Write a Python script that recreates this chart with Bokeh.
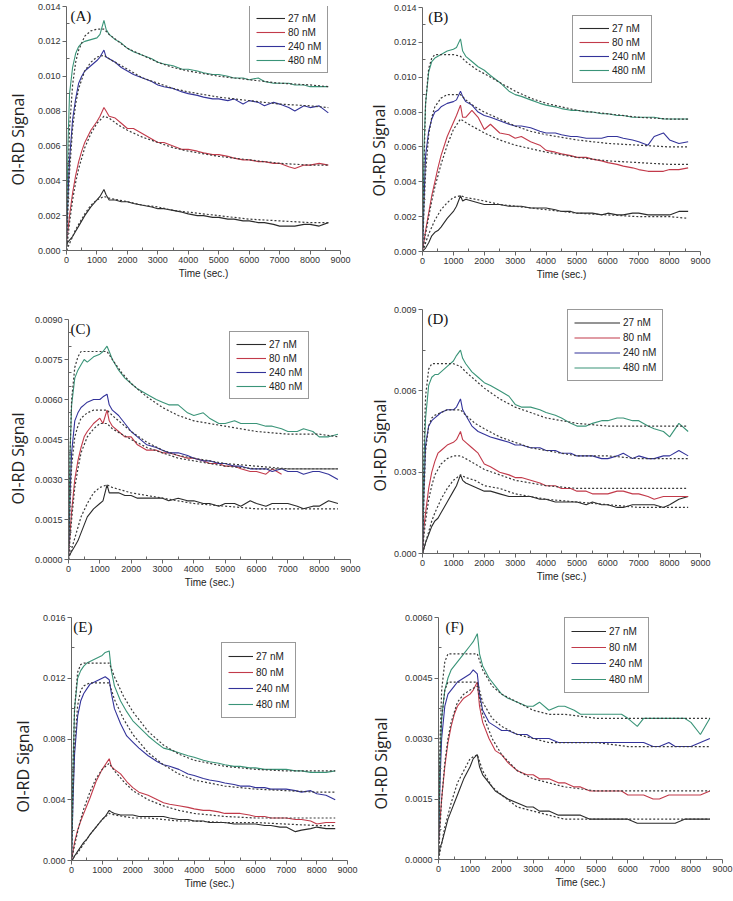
import math
import numpy as np
from bokeh.plotting import figure
from bokeh.models import (Range1d, FixedTicker, NumeralTickFormatter, Legend, LegendItem, Label, Plot)
from bokeh.layouts import column, row
from bokeh.embed import file_html
from bokeh.resources import INLINE

nan = float("nan")

# ---------------- data ----------------
T = [0, 50, 100, 200, 300, 400, 500, 600, 800, 1000, 1100,
     1230, 1300, 1400, 1600, 1800, 2000, 2200, 2500, 2800, 3000, 3200,
     3500, 3800, 4000, 4300, 4500, 4800, 5000, 5300, 5500, 5800, 6000,
     6300, 6500, 6800, 7000, 7300, 7500, 7800, 8000, 8300, 8600]
TF = [0, 50, 100, 200, 300, 400, 600, 800, 1000, 1230, 1400,
      1700, 2000, 2500, 3000, 3500, 4000, 5000, 6000, 7000, 8000, 8600]

LABELS = ["27 nM", "80 nM", "240 nM", "480 nM"]
X_TICKS = [0, 1000, 2000, 3000, 4000, 5000, 6000, 7000, 8000, 9000]

# Panel A
A27 = [0.0003, 0.0005, 0.0006, 0.0008, 0.0011, 0.0014, 0.0017, 0.0020, 0.0025, 0.0029, 0.0031,
       0.0035, 0.0032, 0.0029, 0.0029, 0.0028, 0.0028, 0.0027, 0.0026, 0.0025, 0.0024, 0.0024,
       0.0023, 0.0022, 0.0021, 0.0020, 0.0020, 0.0019, 0.0019, 0.0018, 0.0018, 0.0017, 0.0017,
       0.0016, 0.0016, 0.0015, 0.0014, 0.0014, 0.0014, 0.0015, 0.0015, 0.0014, 0.0016]
A80 = [0.0005, 0.0012, 0.0020, 0.0033, 0.0043, 0.0051, 0.0057, 0.0062, 0.0069, 0.0074, 0.0077,
       0.0082, 0.0080, 0.0077, 0.0076, 0.0073, 0.0070, 0.0070, 0.0067, 0.0064, 0.0062, 0.0062,
       0.0060, 0.0058, 0.0058, 0.0057, 0.0056, 0.0055, 0.0055, 0.0054, 0.0053, 0.0052, 0.0052,
       0.0051, 0.0051, 0.0050, 0.0050, 0.0048, 0.0047, 0.0049, 0.0049, 0.0050, 0.0049]
A240 = [0.0005, 0.0032, 0.0052, 0.0075, 0.0087, 0.0096, 0.0100, 0.0103, 0.0106, 0.0109, 0.0111,
        0.0115, 0.0111, 0.0110, 0.0108, 0.0105, 0.0103, 0.0101, 0.0099, 0.0097, 0.0095, 0.0094,
        0.0093, 0.0091, 0.0090, 0.0089, 0.0088, 0.0087, 0.0087, 0.0086, 0.0087, 0.0084, 0.0086,
        0.0085, 0.0083, 0.0085, 0.0084, 0.0082, 0.0080, 0.0083, 0.0082, 0.0083, 0.0079]
A480 = [0.0005, 0.0062, 0.0090, 0.0105, 0.0113, 0.0117, 0.0119, 0.0120, 0.0121, 0.0122, 0.0124,
        0.0132, 0.0127, 0.0124, 0.0121, 0.0119, 0.0116, 0.0114, 0.0112, 0.0110, 0.0108, 0.0107,
        0.0106, 0.0104, 0.0104, 0.0103, 0.0102, 0.0101, 0.0101, 0.0100, 0.0099, 0.0099, 0.0098,
        0.0099, 0.0097, 0.0096, 0.0096, 0.0096, 0.0095, 0.0095, 0.0094, 0.0094, 0.0094]
A27F = [0.0000, 0.0002, 0.0004, 0.0008, 0.0012, 0.0015, 0.0021, 0.0026, 0.0029, 0.0031, 0.0030,
        0.0029, 0.0028, 0.0026, 0.0025, 0.0023, 0.0022, 0.0020, 0.0018, 0.0017, 0.0016, 0.0016]
A80F = [0.0000, 0.0008, 0.0016, 0.0029, 0.0039, 0.0047, 0.0059, 0.0067, 0.0073, 0.0077, 0.0076,
        0.0072, 0.0069, 0.0065, 0.0062, 0.0059, 0.0057, 0.0054, 0.0052, 0.0050, 0.0049, 0.0049]
A240F = [0.0000, 0.0024, 0.0045, 0.0070, 0.0084, 0.0093, 0.0103, 0.0108, 0.0111, 0.0112, 0.0110,
         0.0107, 0.0104, 0.0099, 0.0096, 0.0093, 0.0091, 0.0088, 0.0086, 0.0084, 0.0083, 0.0082]
A480F = [0.0000, 0.0040, 0.0070, 0.0095, 0.0108, 0.0115, 0.0123, 0.0126, 0.0127, 0.0127, 0.0124,
         0.0120, 0.0116, 0.0112, 0.0108, 0.0105, 0.0103, 0.0100, 0.0098, 0.0096, 0.0095, 0.0094]

# Panel B
B27 = [0.0000, 0.0001, 0.0002, 0.0005, 0.0009, 0.0011, 0.0012, 0.0014, 0.0019, 0.0023, 0.0026,
       0.0032, 0.0029, 0.0030, 0.0029, 0.0028, 0.0027, 0.0027, 0.0027, 0.0026, 0.0026, 0.0026,
       0.0025, 0.0025, 0.0025, 0.0024, 0.0023, 0.0023, 0.0022, 0.0022, 0.0022, 0.0021, 0.0022,
       0.0021, 0.0021, 0.0022, 0.0022, 0.0021, 0.0021, 0.0021, 0.0021, 0.0023, 0.0023]
B80 = [0.0000, 0.0006, 0.0012, 0.0022, 0.0032, 0.0040, 0.0048, 0.0055, 0.0066, 0.0074, 0.0078,
       0.0084, 0.0077, 0.0077, 0.0081, 0.0077, 0.0070, 0.0073, 0.0068, 0.0067, 0.0065, 0.0066,
       0.0063, 0.0061, 0.0058, 0.0057, 0.0056, 0.0055, 0.0054, 0.0054, 0.0053, 0.0052, 0.0051,
       0.0050, 0.0049, 0.0048, 0.0047, 0.0046, 0.0046, 0.0046, 0.0047, 0.0047, 0.0048]
B240 = [0.0000, 0.0030, 0.0055, 0.0069, 0.0076, 0.0080, 0.0081, 0.0083, 0.0085, 0.0086, 0.0087,
        0.0092, 0.0089, 0.0086, 0.0084, 0.0080, 0.0078, 0.0077, 0.0075, 0.0073, 0.0072, 0.0072,
        0.0071, 0.0069, 0.0068, 0.0068, 0.0067, 0.0066, 0.0066, 0.0065, 0.0065, 0.0065, 0.0066,
        0.0066, 0.0065, 0.0064, 0.0063, 0.0061, 0.0066, 0.0068, 0.0064, 0.0062, 0.0063]
B480 = [0.0000, 0.0060, 0.0085, 0.0103, 0.0109, 0.0111, 0.0112, 0.0113, 0.0115, 0.0116, 0.0117,
        0.0122, 0.0115, 0.0112, 0.0109, 0.0106, 0.0104, 0.0101, 0.0097, 0.0092, 0.0090, 0.0089,
        0.0087, 0.0085, 0.0084, 0.0083, 0.0082, 0.0081, 0.0081, 0.0080, 0.0080, 0.0079, 0.0079,
        0.0078, 0.0078, 0.0077, 0.0077, 0.0077, 0.0077, 0.0076, 0.0076, 0.0076, 0.0076]
B27F = [0.0000, 0.0002, 0.0005, 0.0010, 0.0014, 0.0018, 0.0024, 0.0028, 0.0031, 0.0032, 0.0031,
        0.0030, 0.0029, 0.0027, 0.0026, 0.0025, 0.0024, 0.0022, 0.0021, 0.0020, 0.0020, 0.0019]
B80F = [0.0000, 0.0005, 0.0010, 0.0020, 0.0029, 0.0037, 0.0050, 0.0061, 0.0070, 0.0076, 0.0074,
        0.0071, 0.0068, 0.0064, 0.0061, 0.0059, 0.0057, 0.0054, 0.0052, 0.0051, 0.0050, 0.0050]
B240F = [0.0000, 0.0025, 0.0045, 0.0067, 0.0077, 0.0083, 0.0088, 0.0090, 0.0090, 0.0090, 0.0087,
         0.0083, 0.0080, 0.0076, 0.0072, 0.0069, 0.0067, 0.0064, 0.0062, 0.0061, 0.0060, 0.0060]
B480F = [0.0000, 0.0050, 0.0085, 0.0105, 0.0111, 0.0113, 0.0113, 0.0113, 0.0113, 0.0112, 0.0109,
         0.0105, 0.0102, 0.0097, 0.0092, 0.0088, 0.0085, 0.0081, 0.0079, 0.0077, 0.0076, 0.0076]

# Panel C
C27 = [0.0001, 0.0002, 0.0003, 0.0005, 0.0007, 0.0010, 0.0013, 0.0016, 0.0019, 0.0021, 0.0022,
       0.0028, 0.0025, 0.0025, 0.0025, 0.0024, 0.0024, 0.0023, 0.0023, 0.0023, 0.0023, 0.0022,
       0.0023, 0.0022, 0.0022, 0.0021, 0.0021, 0.0020, 0.0021, 0.0021, 0.0020, 0.0022, 0.0021,
       0.0020, 0.0021, 0.0021, 0.0021, 0.0020, 0.0019, 0.0020, 0.0020, 0.0022, 0.0021]
C80 = [0.0001, 0.0010, 0.0018, 0.0030, 0.0037, 0.0042, 0.0046, 0.0048, 0.0051, 0.0053, 0.0051,
       0.0056, 0.0052, 0.0050, 0.0048, 0.0046, 0.0046, 0.0043, 0.0041, 0.0041, 0.0040, 0.0040,
       0.0039, 0.0038, 0.0038, 0.0037, 0.0036, 0.0036, 0.0035, 0.0035, 0.0034, 0.0033, 0.0033,
       0.0032, 0.0034, 0.0032, nan, nan, nan, nan, nan, nan, nan]
C240 = [0.0001, 0.0025, 0.0040, 0.0052, 0.0055, 0.0057, 0.0058, 0.0059, 0.0060, 0.0060, 0.0061,
        0.0062, 0.0058, 0.0056, 0.0054, 0.0051, 0.0048, 0.0046, 0.0043, 0.0042, 0.0041, 0.0040,
        0.0040, 0.0039, 0.0038, 0.0037, 0.0037, 0.0036, 0.0036, 0.0035, 0.0035, 0.0034, 0.0034,
        0.0034, 0.0033, 0.0034, 0.0033, 0.0033, 0.0032, 0.0033, 0.0033, 0.0032, 0.0030]
C480 = [0.0001, 0.0040, 0.0058, 0.0068, 0.0071, 0.0073, 0.0075, 0.0074, 0.0076, 0.0077, 0.0078,
        0.0080, 0.0078, 0.0075, 0.0071, 0.0068, 0.0066, 0.0064, 0.0062, 0.0060, 0.0059, 0.0058,
        0.0058, 0.0055, 0.0054, 0.0055, 0.0053, 0.0051, 0.0051, 0.0052, 0.0051, 0.0051, 0.0051,
        0.0050, 0.0050, 0.0049, 0.0048, 0.0048, 0.0049, 0.0048, 0.0046, 0.0046, 0.0047]
C27F = [0.0000, 0.0002, 0.0004, 0.0008, 0.0012, 0.0016, 0.0021, 0.0025, 0.0027, 0.0028, 0.0027,
        0.0026, 0.0025, 0.0024, 0.0023, 0.0022, 0.0021, 0.0020, 0.0019, 0.0019, 0.0019, 0.0019]
C80F = [0.0000, 0.0008, 0.0015, 0.0027, 0.0034, 0.0040, 0.0046, 0.0049, 0.0051, 0.0051, 0.0049,
        0.0047, 0.0045, 0.0042, 0.0040, 0.0038, 0.0037, 0.0035, 0.0034, 0.0034, 0.0034, 0.0034]
C240F = [0.0000, 0.0020, 0.0035, 0.0046, 0.0050, 0.0053, 0.0055, 0.0056, 0.0056, 0.0056, 0.0054,
         0.0051, 0.0048, 0.0044, 0.0041, 0.0039, 0.0038, 0.0036, 0.0035, 0.0034, 0.0034, 0.0034]
C480F = [0.0000, 0.0040, 0.0060, 0.0072, 0.0076, 0.0078, 0.0078, 0.0078, 0.0078, 0.0078, 0.0075,
         0.0070, 0.0066, 0.0061, 0.0057, 0.0054, 0.0052, 0.0050, 0.0048, 0.0047, 0.0047, 0.0046]

# Panel D
D27 = [0.0000, 0.0002, 0.0004, 0.0007, 0.0010, 0.0012, 0.0013, 0.0015, 0.0019, 0.0023, 0.0025,
       0.0029, 0.0027, 0.0026, 0.0025, 0.0024, 0.0023, 0.0023, 0.0022, 0.0021, 0.0021, 0.0021,
       0.0021, 0.0020, 0.0020, 0.0019, 0.0019, 0.0019, 0.0019, 0.0018, 0.0019, 0.0018, 0.0018,
       0.0017, 0.0017, 0.0018, 0.0018, 0.0018, 0.0018, 0.0017, 0.0018, 0.0020, 0.0021]
D80 = [0.0000, 0.0010, 0.0015, 0.0024, 0.0030, 0.0034, 0.0037, 0.0038, 0.0040, 0.0041, 0.0042,
       0.0045, 0.0042, 0.0041, 0.0039, 0.0037, 0.0033, 0.0032, 0.0030, 0.0029, 0.0028, 0.0028,
       0.0027, 0.0026, 0.0025, 0.0025, 0.0024, 0.0024, 0.0023, 0.0023, 0.0022, 0.0022, 0.0022,
       0.0023, 0.0023, 0.0022, 0.0022, 0.0021, 0.0020, 0.0021, 0.0021, 0.0021, 0.0021]
D240 = [0.0000, 0.0025, 0.0040, 0.0047, 0.0049, 0.0050, 0.0051, 0.0052, 0.0053, 0.0053, 0.0054,
        0.0057, 0.0053, 0.0051, 0.0047, 0.0045, 0.0044, 0.0043, 0.0042, 0.0041, 0.0040, 0.0040,
        0.0039, 0.0039, 0.0038, 0.0038, 0.0037, 0.0037, 0.0036, 0.0036, 0.0036, 0.0035, 0.0035,
        0.0036, 0.0037, 0.0035, 0.0036, 0.0035, 0.0035, 0.0036, 0.0036, 0.0038, 0.0036]
D480 = [0.0000, 0.0035, 0.0050, 0.0062, 0.0065, 0.0066, 0.0066, 0.0067, 0.0069, 0.0071, 0.0073,
        0.0075, 0.0072, 0.0070, 0.0067, 0.0065, 0.0063, 0.0062, 0.0060, 0.0058, 0.0055, 0.0054,
        0.0054, 0.0053, 0.0052, 0.0051, 0.0050, 0.0048, 0.0047, 0.0047, 0.0048, 0.0049, 0.0049,
        0.0050, 0.0050, 0.0049, 0.0049, 0.0047, 0.0046, 0.0045, 0.0043, 0.0048, 0.0045]
D27F = [0.0000, 0.0002, 0.0004, 0.0008, 0.0012, 0.0015, 0.0020, 0.0024, 0.0027, 0.0029, 0.0028,
        0.0027, 0.0025, 0.0024, 0.0022, 0.0021, 0.0020, 0.0019, 0.0018, 0.0017, 0.0017, 0.0017]
D80F = [0.0000, 0.0007, 0.0012, 0.0020, 0.0025, 0.0029, 0.0033, 0.0035, 0.0036, 0.0036, 0.0035,
        0.0033, 0.0031, 0.0029, 0.0027, 0.0026, 0.0025, 0.0024, 0.0024, 0.0024, 0.0024, 0.0024]
D240F = [0.0000, 0.0022, 0.0038, 0.0047, 0.0050, 0.0051, 0.0052, 0.0053, 0.0053, 0.0053, 0.0051,
         0.0048, 0.0046, 0.0043, 0.0041, 0.0039, 0.0038, 0.0036, 0.0036, 0.0035, 0.0035, 0.0035]
D480F = [0.0000, 0.0040, 0.0058, 0.0068, 0.0070, 0.0070, 0.0070, 0.0070, 0.0070, 0.0069, 0.0067,
         0.0064, 0.0061, 0.0057, 0.0054, 0.0052, 0.0050, 0.0048, 0.0047, 0.0047, 0.0047, 0.0047]

# Panel E
E27 = [0.0000, 0.0001, 0.0003, 0.0006, 0.0009, 0.0012, 0.0014, 0.0017, 0.0022, 0.0027, 0.0029,
       0.0033, 0.0032, 0.0031, 0.0030, 0.0030, 0.0030, 0.0029, 0.0029, 0.0029, 0.0029, 0.0028,
       0.0027, 0.0027, 0.0026, 0.0026, 0.0025, 0.0025, 0.0025, 0.0024, 0.0024, 0.0024, 0.0024,
       0.0023, 0.0023, 0.0022, 0.0022, 0.0019, 0.0020, 0.0021, 0.0022, 0.0021, 0.0021]
E80 = [0.0000, 0.0006, 0.0012, 0.0020, 0.0026, 0.0031, 0.0036, 0.0041, 0.0052, 0.0060, 0.0063,
       0.0067, 0.0062, 0.0060, 0.0057, 0.0052, 0.0048, 0.0045, 0.0043, 0.0040, 0.0038, 0.0037,
       0.0036, 0.0035, 0.0034, 0.0033, 0.0033, 0.0032, 0.0031, 0.0031, 0.0031, 0.0030, 0.0029,
       0.0029, 0.0028, 0.0028, 0.0028, 0.0027, 0.0027, 0.0026, 0.0024, 0.0025, 0.0025]
E240 = [0.0000, 0.0040, 0.0070, 0.0095, 0.0105, 0.0110, 0.0113, 0.0116, 0.0118, 0.0120, 0.0121,
        0.0119, 0.0110, 0.0100, 0.0090, 0.0082, 0.0078, 0.0074, 0.0069, 0.0065, 0.0063, 0.0062,
        0.0060, 0.0057, 0.0056, 0.0054, 0.0053, 0.0052, 0.0051, 0.0050, 0.0049, 0.0049, 0.0048,
        0.0048, 0.0047, 0.0047, 0.0047, 0.0046, 0.0045, 0.0046, 0.0044, 0.0043, 0.0040]
E480 = [0.0000, 0.0060, 0.0100, 0.0120, 0.0125, 0.0128, 0.0130, 0.0131, 0.0133, 0.0135, 0.0137,
        0.0138, 0.0125, 0.0115, 0.0105, 0.0098, 0.0092, 0.0088, 0.0082, 0.0077, 0.0074, 0.0073,
        0.0071, 0.0069, 0.0068, 0.0066, 0.0065, 0.0064, 0.0063, 0.0062, 0.0062, 0.0061, 0.0061,
        0.0060, 0.0060, 0.0060, 0.0060, 0.0059, 0.0059, 0.0058, 0.0058, 0.0058, 0.0059]
E27F = [0.0000, 0.0001, 0.0003, 0.0005, 0.0008, 0.0011, 0.0017, 0.0022, 0.0027, 0.0031, 0.0030,
        0.0029, 0.0028, 0.0028, 0.0027, 0.0026, 0.0026, 0.0025, 0.0025, 0.0024, 0.0023, 0.0023]
E80F = [0.0000, 0.0005, 0.0010, 0.0019, 0.0027, 0.0034, 0.0045, 0.0054, 0.0060, 0.0064, 0.0059,
        0.0052, 0.0046, 0.0040, 0.0036, 0.0033, 0.0031, 0.0029, 0.0028, 0.0028, 0.0028, 0.0028]
E240F = [0.0000, 0.0045, 0.0075, 0.0102, 0.0112, 0.0115, 0.0117, 0.0117, 0.0117, 0.0117, 0.0106,
         0.0093, 0.0083, 0.0071, 0.0063, 0.0057, 0.0053, 0.0049, 0.0047, 0.0046, 0.0045, 0.0045]
E480F = [0.0000, 0.0065, 0.0100, 0.0124, 0.0129, 0.0130, 0.0130, 0.0130, 0.0130, 0.0130, 0.0121,
         0.0108, 0.0098, 0.0085, 0.0076, 0.0070, 0.0066, 0.0062, 0.0060, 0.0059, 0.0059, 0.0059]

# Panel F
F27 = [0.0001, 0.0003, 0.0004, 0.0007, 0.0010, 0.0012, 0.0014, 0.0016, 0.0020, 0.0023, 0.0025,
       0.0026, 0.0023, 0.0021, 0.0019, 0.0017, 0.0016, 0.0015, 0.0014, 0.0013, 0.0013, 0.0012,
       0.0012, 0.0011, 0.0011, 0.0011, 0.0011, 0.0010, 0.0010, 0.0010, 0.0010, 0.0010, 0.0010,
       0.0009, 0.0009, 0.0009, 0.0009, 0.0009, 0.0009, 0.0010, 0.0010, 0.0010, 0.0010]
F80 = [0.0004, 0.0010, 0.0015, 0.0023, 0.0029, 0.0033, 0.0036, 0.0038, 0.0040, 0.0041, 0.0042,
       0.0044, 0.0038, 0.0034, 0.0030, 0.0027, 0.0026, 0.0024, 0.0022, 0.0021, 0.0021, 0.0020,
       0.0020, 0.0019, 0.0019, 0.0018, 0.0018, 0.0017, 0.0017, 0.0017, 0.0017, 0.0017, 0.0016,
       0.0016, 0.0016, 0.0015, 0.0015, 0.0016, 0.0016, 0.0016, 0.0016, 0.0016, 0.0017]
F240 = [0.0004, 0.0020, 0.0030, 0.0038, 0.0041, 0.0042, 0.0043, 0.0044, 0.0045, 0.0046, 0.0047,
        0.0046, 0.0041, 0.0037, 0.0034, 0.0033, 0.0032, 0.0032, 0.0031, 0.0031, 0.0030, 0.0030,
        0.0030, 0.0029, 0.0029, 0.0029, 0.0029, 0.0029, 0.0029, 0.0029, 0.0029, 0.0029, 0.0029,
        0.0029, 0.0029, 0.0028, 0.0028, 0.0029, 0.0028, 0.0028, 0.0028, 0.0029, 0.0030]
F480 = [0.0004, 0.0025, 0.0035, 0.0042, 0.0045, 0.0047, 0.0048, 0.0049, 0.0051, 0.0053, 0.0054,
        0.0056, 0.0051, 0.0048, 0.0045, 0.0043, 0.0041, 0.0040, 0.0039, 0.0038, 0.0038, 0.0039,
        0.0037, 0.0038, 0.0038, 0.0037, 0.0036, 0.0036, 0.0036, 0.0036, 0.0036, 0.0036, 0.0035,
        0.0033, 0.0035, 0.0035, 0.0035, 0.0035, 0.0035, 0.0035, 0.0034, 0.0031, 0.0035]
F27F = [0.0000, 0.0002, 0.0004, 0.0008, 0.0011, 0.0014, 0.0019, 0.0022, 0.0025, 0.0026, 0.0022,
        0.0018, 0.0016, 0.0013, 0.0012, 0.0011, 0.0010, 0.0010, 0.0010, 0.0010, 0.0010, 0.0010]
F80F = [0.0000, 0.0008, 0.0015, 0.0024, 0.0030, 0.0034, 0.0039, 0.0041, 0.0042, 0.0043, 0.0036,
        0.0030, 0.0026, 0.0022, 0.0020, 0.0019, 0.0018, 0.0017, 0.0017, 0.0017, 0.0017, 0.0017]
F240F = [0.0000, 0.0025, 0.0035, 0.0042, 0.0044, 0.0044, 0.0044, 0.0044, 0.0044, 0.0044, 0.0039,
         0.0035, 0.0033, 0.0031, 0.0030, 0.0029, 0.0029, 0.0029, 0.0028, 0.0028, 0.0028, 0.0028]
F480F = [0.0000, 0.0030, 0.0042, 0.0049, 0.0051, 0.0051, 0.0051, 0.0051, 0.0051, 0.0051, 0.0047,
         0.0043, 0.0041, 0.0039, 0.0037, 0.0036, 0.0036, 0.0035, 0.0035, 0.0035, 0.0035, 0.0035]

# y-axis ticks per panel
A_YT = [0.000, 0.002, 0.004, 0.006, 0.008, 0.010, 0.012, 0.014]
B_YT = A_YT
C_YT = [0.0, 0.0015, 0.0030, 0.0045, 0.0060, 0.0075, 0.0090]
D_YT = [0.0, 0.003, 0.006, 0.009]
E_YT = [0.0, 0.004, 0.008, 0.012, 0.016]
F_YT = [0.0, 0.0015, 0.0030, 0.0045, 0.0060]

# ---------------- styling ----------------
COLORS = ["#2b2b2b", "#c23a4a", "#33339a", "#3a9478"]
FIT_COLOR = "#3a3a3a"
HAS_FRAME_ALIGN = "frame_align" in Plot.properties()


def no_align(p):
    if HAS_FRAME_ALIGN:
        p.frame_align = False


def minor_between(ticks, n):
    out = []
    for a, b in zip(ticks[:-1], ticks[1:]):
        for k in range(1, n + 1):
            out.append(a + (b - a) * k / (n + 1))
    return out


def ylabel_fig(width, height, cx, cy):
    """Narrow strip holding the rotated y-axis title."""
    f = figure(width=width, height=height, output_backend="svg", toolbar_location=None,
               x_range=Range1d(0, 1), y_range=Range1d(0, 1),
               x_axis_type=None, y_axis_type=None,
               min_border_left=0, min_border_right=0, min_border_top=0, min_border_bottom=0)
    f.grid.visible = False
    f.outline_line_color = None
    no_align(f)
    f.add_layout(Label(x=cx, y=cy, x_units="screen", y_units="screen",
                       text="OI-RD Signal", angle=math.pi / 2, text_font="Open Sans",
                       text_font_size="16px", text_color="#222222",
                       text_align="center", text_baseline="middle"))
    return f


def panel(tag, width, height, mb, yticks, yminor_n, yfmt, data, fits,
          leg_loc, leg_lh, leg_gw, tag_x):
    ml, mr, mt, mbot = mb
    p = figure(width=width, height=height, output_backend="svg", toolbar_location=None,
               x_range=Range1d(0, 9000), y_range=Range1d(0, yticks[-1]),
               min_border_left=ml, min_border_right=mr, min_border_top=mt,
               min_border_bottom=mbot)
    no_align(p)
    p.grid.visible = False
    p.outline_line_color = None
    p.background_fill_color = "white"
    p.border_fill_color = "white"

    p.xaxis.ticker = FixedTicker(ticks=X_TICKS, minor_ticks=minor_between(X_TICKS, 1))
    p.yaxis.ticker = FixedTicker(ticks=yticks, minor_ticks=minor_between(yticks, yminor_n))
    p.yaxis.formatter = NumeralTickFormatter(format=yfmt)
    for ax in (p.xaxis[0], p.yaxis[0]):
        ax.axis_line_color = "#666666"
        ax.major_tick_line_color = "#666666"
        ax.minor_tick_line_color = "#666666"
        ax.major_tick_out = 4
        ax.major_tick_in = 0
        ax.minor_tick_out = 0
        ax.minor_tick_in = 3
        ax.major_label_text_font = "Liberation Sans"
        ax.major_label_text_font_size = "9px"
        ax.major_label_text_color = "#333333"
        ax.major_label_standoff = 2
    p.xaxis.axis_label = "Time (sec.)"
    p.xaxis.axis_label_text_font = "Liberation Sans"
    p.xaxis.axis_label_text_font_size = "10px"
    p.xaxis.axis_label_text_font_style = "normal"
    p.xaxis.axis_label_text_color = "#222222"
    p.xaxis.axis_label_standoff = 2

    items = []
    for lab, col, ys in zip(LABELS, COLORS, data):
        r = p.line(np.array(T, dtype=float), np.array(ys, dtype=float),
                   line_color=col, line_width=1.1)
        items.append(LegendItem(label=lab, renderers=[r]))
    for ys in fits:
        p.line(np.array(TF, dtype=float), np.array(ys, dtype=float),
               line_color=FIT_COLOR, line_width=1.2, line_dash="2 2")

    leg = Legend(items=items, location=leg_loc, border_line_color="#333333",
                 border_line_width=1, background_fill_color="white",
                 background_fill_alpha=1.0, label_text_font="Liberation Sans",
                 label_text_font_size="10px", label_text_color="#222222",
                 glyph_width=leg_gw, glyph_height=leg_lh, label_height=leg_lh,
                 label_standoff=3, spacing=2, padding=6, margin=0)
    p.add_layout(leg)

    p.add_layout(Label(x=tag_x, y=yticks[-1], y_offset=-1, text=tag,
                       text_font="Liberation Serif", text_font_size="15px",
                       text_color="#111111", text_baseline="top", text_align="left"))
    return p


# row 1 (height 290)
lA = ylabel_fig(33, 290, 17, 151)
pA = panel("(A)", 332, 290, (33, 25, 6, 40), A_YT, 1, "0.000",
           [A27, A80, A240, A480], [A27F, A80F, A240F, A480F],
           (183, 177), 12, 29, 130)
lB = ylabel_fig(25, 290, 13, 140)
pB = panel("(B)", 343, 290, (28, 33, 7, 39), B_YT, 1, "0.000",
           [B27, B80, B240, B480], [B27F, B80F, B240F, B480F],
           (150, 168), 12, 30, 190)
# row 2 (height 300)
lC = ylabel_fig(31, 300, 17, 132)
pC = panel("(C)", 334, 300, (37, 15, 29, 27), C_YT, 2, "0.0000",
           [C27, C80, C240, C480], [C27F, C80F, C240F, C480F],
           (161, 160), 12, 30, 60)
lD = ylabel_fig(25, 300, 14, 145)
pD = panel("(D)", 343, 300, (28, 33, 19, 37), D_YT, 1, "0.000",
           [D27, D80, D240, D480], [D27F, D80F, D240F, D480F],
           (145, 172), 13, 46, 160)
# row 3 (height 310)
lE = ylabel_fig(38, 310, 22, 134)
pE = panel("(E)", 327, 310, (33, 18, 27, 40), E_YT, 1, "0.000",
           [E27, E80, E240, E480], [E27F, E80F, E240F, E480F],
           (150, 142), 14, 25, 60)
lF = ylabel_fig(36, 310, 15, 137)
pF = panel("(F)", 332, 310, (37, 11, 27, 41), F_YT, 1, "0.0000",
           [F27, F80, F240, F480], [F27F, F80F, F240F, F480F],
           (126, 166), 14, 35, 220)

layout = column(row(lA, pA, lB, pB, spacing=0),
                row(lC, pC, lD, pD, spacing=0),
                row(lE, pE, lF, pF, spacing=0), spacing=0)

open("out.html", "w").write(file_html(layout, INLINE))
